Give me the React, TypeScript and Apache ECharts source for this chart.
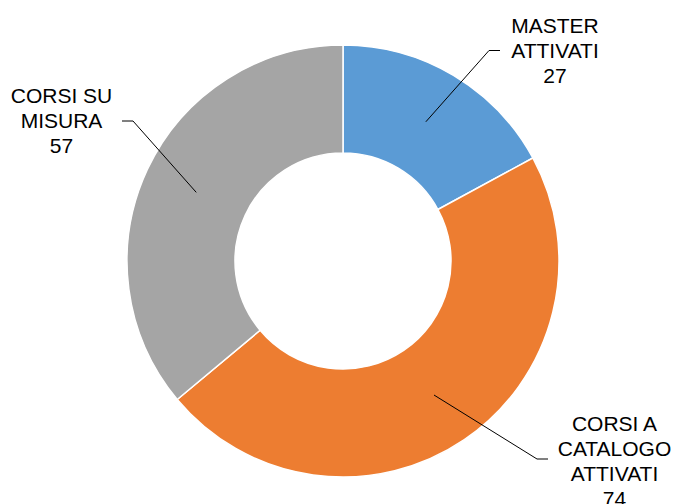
import React, { useEffect, useRef } from "react";
import * as echarts from "echarts";

const categories = ["MASTER\nATTIVATI", "CORSI A\nCATALOGO\nATTIVATI", "CORSI SU\nMISURA"];
const values = [27, 74, 57];
const colors = ["#5B9BD5", "#ED7D31", "#A5A5A5"];

// label layout (label block centre, leader-line end)
const labelPos = [
  { x: 555, y: 50.5, endX: 500, endY: 50.5 },
  { x: 614.5, y: 460.5, endX: 548, endY: 459 },
  { x: 61.5, y: 120.5, endX: 122, endY: 121 },
];

const CX = 343;
const CY = 261;
const R_IN = 108;
const R_OUT = 216;

export default function App() {
  const ref = useRef<HTMLDivElement>(null);
  useEffect(() => {
    document.body.style.margin = "0";
    const chart = echarts.init(ref.current!, undefined, { renderer: "svg" });
    const total = values.reduce((a, b) => a + b, 0);
    const midAngles: number[] = [];
    let acc = 0;
    values.forEach((v) => {
      midAngles.push(((acc + v / 2) / total) * Math.PI * 2);
      acc += v;
    });
    const rMid = (R_IN + R_OUT) / 2;
    const data = categories.map((name, i) => ({
      name,
      value: values[i],
      itemStyle: { color: colors[i] },
    }));
    chart.setOption({
      animation: false,
      backgroundColor: "#fff",
      series: [
        {
          type: "pie",
          z: 2,
          center: [CX, CY],
          radius: [R_IN, R_OUT],
          startAngle: 90,
          clockwise: true,
          data,
          itemStyle: { borderColor: "#fff", borderWidth: 1.5 },
          label: { show: false },
          labelLine: { show: false },
          emphasis: { disabled: true },
          silent: true,
        },
        {
          type: "pie",
          z: 5,
          center: [CX, CY],
          radius: [R_IN, R_OUT],
          startAngle: 90,
          clockwise: true,
          avoidLabelOverlap: false,
          silent: true,
          data: data.map((d) => ({ ...d, itemStyle: { color: "rgba(0,0,0,0)" } })),
          itemStyle: { borderWidth: 0 },
          label: {
            show: true,
            position: "outside",
            formatter: "{b}\n{c}",
            fontFamily: "Liberation Sans, Arial, sans-serif",
            fontSize: 21,
            lineHeight: 25,
            color: "#000",
            align: "center",
          },
          labelLine: {
            show: true,
            lineStyle: { color: "#000", width: 1 },
          },
          emphasis: { disabled: true },
          labelLayout: (params: any) => {
            const i = params.dataIndex;
            const p = labelPos[i];
            const a = midAngles[i];
            const sx = CX + rMid * Math.sin(a);
            const sy = CY - rMid * Math.cos(a);
            const dir = p.endX > sx ? -1 : 1;
            return {
              x: p.x,
              y: p.y,
              align: "center",
              verticalAlign: "middle",
              labelLinePoints: [
                [sx, sy],
                [p.endX + dir * 11, p.endY],
                [p.endX, p.endY],
              ],
            };
          },
        },
      ],
    });
    return () => chart.dispose();
  }, []);
  return <div ref={ref} style={{ width: 678, height: 504 }} />;
}
